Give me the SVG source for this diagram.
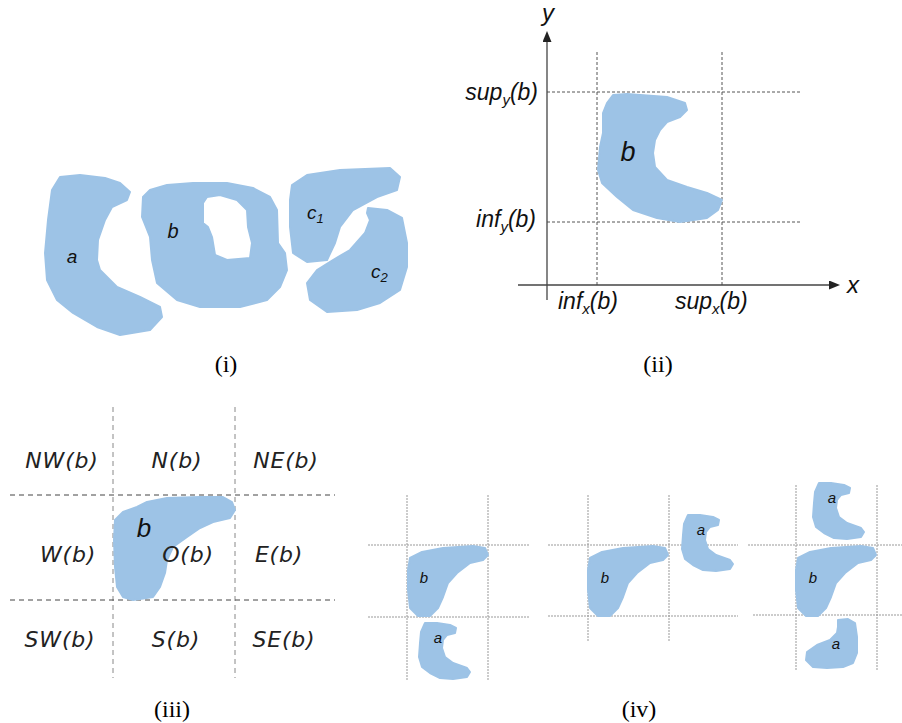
<svg xmlns="http://www.w3.org/2000/svg" width="902" height="723" viewBox="0 0 902 723">
<style>
.blob{fill:#9dc3e6;stroke:#9dc3e6;stroke-width:2;stroke-linejoin:round}
.lbl{font-family:"Liberation Sans",Arial,sans-serif;font-style:italic;fill:#111}
.grid{font-family:"DejaVu Sans",Verdana,sans-serif;font-style:italic;font-size:22px;letter-spacing:0.8px;fill:#222;text-anchor:middle}
.cap{font-family:"Liberation Serif","Times New Roman",serif;font-size:24px;fill:#000;text-anchor:middle}
.d2{stroke:#555;stroke-width:1;stroke-dasharray:3,2;fill:none}
.d3v{stroke:#888;stroke-width:1;stroke-dasharray:5,4;fill:none}
.d3h{stroke:#444;stroke-width:1;stroke-dasharray:5,4;fill:none}
.d4{stroke:#999;stroke-width:1;stroke-dasharray:2,1;fill:none}
.axis{stroke:#444;stroke-width:1.3;fill:none}
</style>
<defs>
<marker id="arr" markerUnits="userSpaceOnUse" markerWidth="12" markerHeight="10" refX="0" refY="4.5" orient="auto">
<path d="M0,0 L11,4.5 L0,9 Z" fill="#222"/>
</marker>
<path id="shapeA" d="M6,0 L18,0 L31,2 L37,5 L36,10 L28,12 L24,17 L23,25 L26,34 L34,40 L48,45 L51,49 L48,54 L34,56 L21,55 L11,50 L3,44 L0,34 L1,20 L2,9 Z"/>
<path id="shapeB" d="M2,12 L14,6 L35,2 L65,0 L77,2 L80,9 L75,14 L62,17 L49,27 L40,37 L35,51 L30,62 L22,70 L10,70 L2,62 L0,44 L0,24 Z"/>
</defs>
<rect width="902" height="723" fill="#fff"/>

<g id="connectors">
<line class="d2" x1="597" y1="52" x2="597" y2="285"/>
<line class="d2" x1="722" y1="52" x2="722" y2="285"/>
<line class="d2" x1="547" y1="92" x2="802" y2="92"/>
<line class="d2" x1="547" y1="222" x2="802" y2="222"/>
<line class="axis" x1="547" y1="300" x2="547" y2="42" marker-end="url(#arr)"/>
<line class="axis" x1="518" y1="285" x2="829" y2="285" marker-end="url(#arr)"/>
<line class="d3v" x1="113" y1="407" x2="113" y2="678"/>
<line class="d3v" x1="235" y1="407" x2="235" y2="678"/>
<line class="d3h" x1="10" y1="495" x2="335" y2="495"/>
<line class="d3h" x1="10" y1="600" x2="335" y2="600"/>
<line class="d4" x1="407" y1="495" x2="407" y2="680"/>
<line class="d4" x1="488" y1="495" x2="488" y2="680"/>
<line class="d4" x1="368" y1="545" x2="530" y2="545"/>
<line class="d4" x1="368" y1="617" x2="530" y2="617"/>
<line class="d4" x1="588" y1="495" x2="588" y2="642"/>
<line class="d4" x1="669" y1="495" x2="669" y2="642"/>
<line class="d4" x1="548" y1="545" x2="738" y2="545"/>
<line class="d4" x1="548" y1="616" x2="738" y2="616"/>
<line class="d4" x1="796" y1="485" x2="796" y2="670"/>
<line class="d4" x1="877" y1="485" x2="877" y2="670"/>
<line class="d4" x1="748" y1="545" x2="902" y2="545"/>
<line class="d4" x1="753" y1="615" x2="902" y2="615"/>
</g>

<g id="panel-i">
<g id="i-a">
<path class="blob" d="M60,177 L80,175 L105,178 L120,183 L130,192 L127,200 L112,207 L105,220 L98,240 L97,260 L100,270 L117,287 L140,297 L160,307 L162,317 L150,330 L120,335 L97,327 L73,313 L57,300 L47,280 L45,253 L48,220 L52,190 Z"/>
<text class="lbl" x="72" y="263" font-size="19" text-anchor="middle">a</text>
</g>
<g id="i-b">
<path class="blob" fill-rule="evenodd" d="M143,197 L150,190 L167,185 L193,183 L227,183 L253,188 L270,197 L277,210 L278,243 L285,253 L287,270 L280,287 L267,300 L240,307 L200,307 L177,300 L157,283 L152,260 L150,237 L142,217 Z M207,197 L220,195 L237,200 L247,210 L248,227 L252,243 L250,258 L227,260 L215,255 L212,237 L208,227 L203,223 L203,203 Z"/>
<text class="lbl" x="173" y="238" font-size="20" text-anchor="middle">b</text>
</g>
<g id="i-c1">
<path class="blob" d="M292,185 L307,175 L340,170 L390,168 L400,177 L397,190 L377,197 L353,210 L340,227 L335,243 L327,260 L307,262 L293,253 L290,227 L290,200 Z"/>
<text class="lbl" x="307" y="219" font-size="19">c<tspan font-size="13" dy="4">1</tspan></text>
</g>
<g id="i-c2">
<path class="blob" d="M368,208 L387,210 L402,218 L407,243 L407,267 L400,290 L380,303 L357,310 L327,312 L310,300 L307,283 L317,270 L333,260 L350,250 L365,233 L370,220 L367,213 Z"/>
<text class="lbl" x="371" y="278" font-size="19">c<tspan font-size="13" dy="4">2</tspan></text>
</g>
<text class="cap" x="226" y="372">(i)</text>
</g>

<g id="panel-ii">
<g id="ii-b">
<path class="blob" d="M613,95 L627,94 L667,97 L685,103 L687,110 L680,117 L667,122 L660,130 L655,140 L653,153 L655,167 L667,180 L687,187 L707,193 L722,200 L718,210 L707,218 L680,222 L657,218 L633,210 L617,197 L602,183 L598,170 L600,147 L603,133 L603,113 L607,103 Z"/>
<text class="lbl" x="628" y="161" font-size="27" text-anchor="middle">b</text>
</g>
<text class="lbl" x="548" y="21" font-size="24" text-anchor="middle">y</text>
<text class="lbl" x="853" y="293" font-size="24" text-anchor="middle">x</text>
<text class="lbl" x="538" y="100" font-size="23" text-anchor="end">sup<tspan font-size="15" dy="5">y</tspan><tspan dy="-5">(b)</tspan></text>
<text class="lbl" x="536" y="227" font-size="23" text-anchor="end">inf<tspan font-size="15" dy="5">y</tspan><tspan dy="-5">(b)</tspan></text>
<text class="lbl" x="558" y="309" font-size="23">inf<tspan font-size="15" dy="5">x</tspan><tspan dy="-5">(b)</tspan></text>
<text class="lbl" x="675" y="309" font-size="23">sup<tspan font-size="15" dy="5">x</tspan><tspan dy="-5">(b)</tspan></text>
<text class="cap" x="658" y="372">(ii)</text>
</g>

<g id="panel-iii">
<g id="iii-b">
<path class="blob" d="M115,520 L123,512 L137,507 L147,502 L167,498 L200,497 L223,497 L232,502 L235,510 L230,518 L213,522 L200,528 L187,537 L173,547 L167,560 L165,573 L160,587 L153,597 L133,600 L123,597 L117,587 L115,567 L114,540 Z"/>
<text class="lbl" x="144" y="537" font-size="26" text-anchor="middle">b</text>
</g>
<text class="grid" x="62" y="468">NW(b)</text>
<text class="grid" x="177" y="468">N(b)</text>
<text class="grid" x="286" y="468">NE(b)</text>
<text class="grid" x="68" y="562">W(b)</text>
<text class="grid" x="188" y="562">O(b)</text>
<text class="grid" x="279" y="562">E(b)</text>
<text class="grid" x="60" y="647">SW(b)</text>
<text class="grid" x="176" y="647">S(b)</text>
<text class="grid" x="284" y="647">SE(b)</text>
<text class="cap" x="172" y="717">(iii)</text>
</g>

<g id="panel-iv">
<g id="iv1-b">
<use href="#shapeB" class="blob" transform="translate(408,546)"/>
<text class="lbl" x="424" y="583" font-size="15" text-anchor="middle">b</text>
</g>
<g id="iv1-a">
<use href="#shapeA" class="blob" transform="translate(419,623)"/>
<text class="lbl" x="438" y="643" font-size="15" text-anchor="middle">a</text>
</g>
<g id="iv2-b">
<use href="#shapeB" class="blob" transform="translate(588,546)"/>
<text class="lbl" x="605" y="583" font-size="15" text-anchor="middle">b</text>
</g>
<g id="iv2-a">
<use href="#shapeA" class="blob" transform="translate(682,515)"/>
<text class="lbl" x="701" y="535" font-size="15" text-anchor="middle">a</text>
</g>
<g id="iv3-atop">
<use href="#shapeA" class="blob" transform="translate(813,483)"/>
<text class="lbl" x="832" y="503" font-size="15" text-anchor="middle">a</text>
</g>
<g id="iv3-b">
<use href="#shapeB" class="blob" transform="translate(796,546)"/>
<text class="lbl" x="813" y="583" font-size="15" text-anchor="middle">b</text>
</g>
<g id="iv3-abot">
<path class="blob" d="M838,620 L848,619 L855,623 L857,637 L857,653 L853,663 L843,667 L827,668 L813,667 L806,660 L807,652 L817,645 L830,640 L837,633 L838,627 Z"/>
<text class="lbl" x="836" y="649" font-size="15" text-anchor="middle">a</text>
</g>
<text class="cap" x="639" y="717">(iv)</text>
</g>
</svg>
